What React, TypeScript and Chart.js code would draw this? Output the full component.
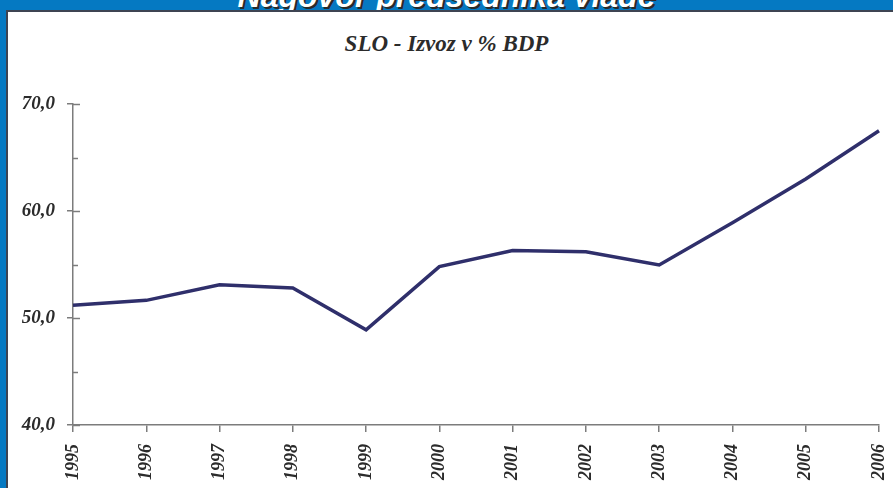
import React, { useEffect, useRef } from "react";
import { Chart, registerables } from "chart.js";

Chart.register(...registerables);

const years = ["1995", "1996", "1997", "1998", "1999", "2000", "2001", "2002", "2003", "2004", "2005", "2006"];
const exportShare = [51.2, 51.65, 53.1, 52.8, 48.9, 54.8, 56.3, 56.2, 54.95, 58.9, 63.0, 67.5];
const pageTitle = "Nagovor predsednika vlade";
const chartTitle = "SLO - Izvoz v % BDP";
const yMin = 40;
const yMax = 70;

const AXIS = "#7c7c7c";
const TEXT = "#2b2b2b";

const innerTicks = {
  id: "innerTicks",
  afterDraw(chart: any) {
    const y = chart.scales.y;
    const ctx = chart.ctx;
    const left = chart.chartArea.left;
    ctx.save();
    ctx.strokeStyle = AXIS;
    ctx.lineWidth = 1.5;
    y.ticks.forEach((t: any) => {
      const py = Math.round(y.getPixelForValue(t.value)) + 0.5;
      const len = t.value % 10 === 0 ? 7 : 5;
      ctx.beginPath();
      ctx.moveTo(left, py);
      ctx.lineTo(left + len, py);
      ctx.stroke();
    });
    ctx.restore();
  },
};

export default function App() {
  const ref = useRef<HTMLCanvasElement>(null);

  useEffect(() => {
    if (!ref.current) return;
    const chart = new Chart(ref.current, {
      type: "line",
      data: {
        labels: years,
        datasets: [
          {
            data: exportShare,
            borderColor: "#2f2f6b",
            borderWidth: 3.5,
            pointRadius: 0,
            tension: 0,
            fill: false,
          },
        ],
      },
      options: {
        responsive: false,
        animation: false,
        layout: { padding: { top: 92, right: 14, bottom: 0, left: 0 } },
        plugins: { legend: { display: false }, tooltip: { enabled: false }, title: { display: false } },
        scales: {
          x: {
            offset: false,
            afterFit: (s: any) => {
              s.height = 63;
              s.paddingLeft = 0;
              s.paddingRight = 0;
            },
            grid: { drawOnChartArea: false, tickLength: 7, color: AXIS, lineWidth: 1.5 },
            border: { display: true, color: AXIS, width: 1.5 },
            ticks: {
              autoSkip: false,
              maxRotation: 90,
              minRotation: 90,
              padding: 12,
              color: TEXT,
              font: { family: "'Liberation Serif', 'Times New Roman', serif", size: 18, style: "italic", weight: "bold" },
            },
          },
          y: {
            min: yMin,
            max: yMax,
            afterFit: (s: any) => {
              s.width = 65;
              s.paddingTop = 0;
              s.paddingBottom = 0;
            },
            grid: {
              drawOnChartArea: false,
              tickLength: 6,
              lineWidth: 1.5,
              color: (c: any) => (c.tick && c.tick.value % 10 === 0 ? AXIS : "rgba(0,0,0,0)"),
            },
            border: { display: true, color: AXIS, width: 1.5 },
            ticks: {
              stepSize: 5,
              padding: 12,
              color: TEXT,
              font: { family: "'Liberation Serif', 'Times New Roman', serif", size: 19, style: "italic", weight: "bold" },
              callback: (v: any) => (Number(v) % 10 === 0 ? Number(v).toFixed(1).replace(".", ",") : ""),
            },
          },
        },
      },
      plugins: [innerTicks],
    });
    return () => chart.destroy();
  }, []);

  return (
    <div
      style={{
        position: "fixed",
        left: 0,
        top: 0,
        width: 893,
        height: 488,
        overflow: "hidden",
        background: "#0579c2",
      }}
    >
      <div
        style={{
          position: "absolute",
          left: 0,
          width: 893,
          top: -20,
          height: 32,
          lineHeight: "32px",
          textAlign: "center",
          color: "#ffffff",
          fontFamily: "'Liberation Sans', Arial, sans-serif",
          fontWeight: "bold",
          fontStyle: "italic",
          fontSize: 32,
          textShadow: "2px 2px 0 #2a2a2a",
          whiteSpace: "nowrap",
        }}
      >
        {pageTitle}
      </div>
      <div
        style={{
          position: "absolute",
          left: 6,
          top: 10,
          width: 887,
          height: 478,
          boxSizing: "border-box",
          background: "#ffffff",
          borderTop: "2px solid #3d4452",
          borderLeft: "2px solid #3d4452",
        }}
      />
      <div
        style={{
          position: "absolute",
          left: 0,
          width: 893,
          top: 32,
          height: 24,
          lineHeight: "24px",
          textAlign: "center",
          color: "#2b2b2b",
          fontFamily: "'Liberation Serif', 'Times New Roman', serif",
          fontWeight: "bold",
          fontStyle: "italic",
          fontSize: 23,
          whiteSpace: "nowrap",
        }}
      >
        {chartTitle}
      </div>
      <canvas
        ref={ref}
        width={885}
        height={476}
        style={{ position: "absolute", left: 8, top: 12, width: 885, height: 476 }}
      />
    </div>
  );
}
